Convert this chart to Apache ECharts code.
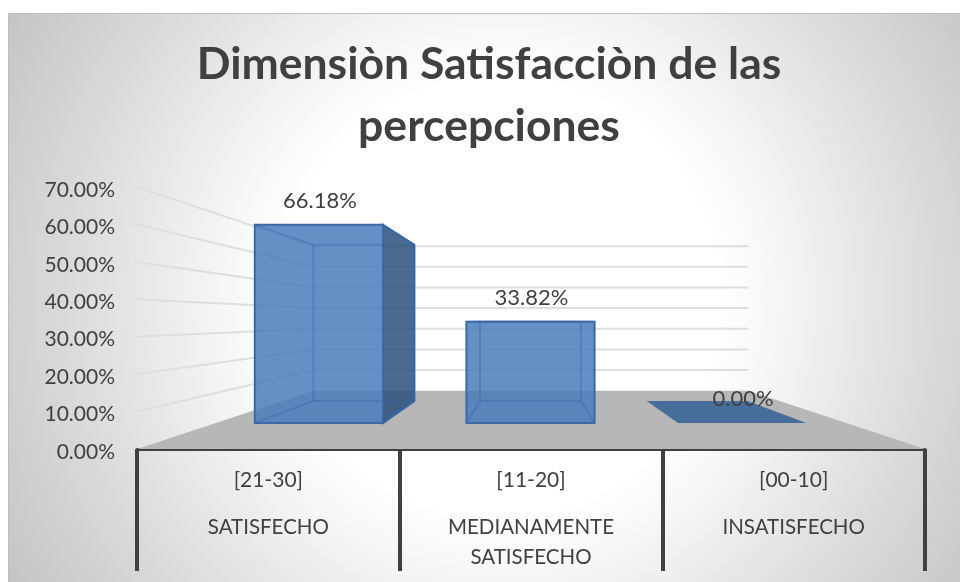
<!DOCTYPE html>
<html>
<head>
<meta charset="utf-8">
<style>
  html, body { margin: 0; padding: 0; background: #fff; }
  #chart { width: 960px; height: 582px; }
</style>
<script src="https://cdn.jsdelivr.net/npm/echarts@6/dist/echarts.min.js"></script>
</head>
<body>
<div id="chart"></div>
<script>
var titleText = 'Dimensiòn Satisfacciòn de las\npercepciones'
var ranges = ['[21-30]', '[11-20]', '[00-10]']
var groups = ['SATISFECHO', 'MEDIANAMENTE\nSATISFECHO', 'INSATISFECHO']
var percents = [66.18, 33.82, 0]
var gridValues = [10, 20, 30, 40, 50, 60, 70]

// fake 3d: everything is projected from the front plane of the axes towards a vanishing point
var vanishY = 319
var depthWallStart = 1.0076
var depthWall = 0.552
var depthBarFront = 0.8
var depthBarBack = 0.63
var barRatio = 0.61
var barSpread = 1.007

var textColor = '#404040'
var fontFamily = 'Lato'

function project(pt, vanishX, s) {
  return [vanishX + (pt[0] - vanishX) * s, vanishY + (pt[1] - vanishY) * s]
}

function renderFloor(params, api) {
  var rect = params.coordSys
  var vx = rect.x + rect.width / 2
  var y0 = api.coord([0, api.value(1)])[1]
  var left = [rect.x, y0]
  var right = [rect.x + rect.width, y0]
  return {
    type: 'polygon',
    shape: { points: [left, right, project(right, vx, depthWall), project(left, vx, depthWall)] },
    style: { fill: '#b7b7b7' }
  }
}

function renderGridLine(params, api) {
  var rect = params.coordSys
  var vx = rect.x + rect.width / 2
  var y = api.coord([0, api.value(1)])[1]
  var left = [rect.x, y]
  var right = [rect.x + rect.width, y]
  return {
    type: 'polyline',
    shape: { points: [project(left, vx, depthWallStart), project(left, vx, depthWall), project(right, vx, depthWall)] },
    style: { fill: null, stroke: '#dedede', lineWidth: 2 }
  }
}

function renderBar(params, api) {
  var rect = params.coordSys
  var vx = rect.x + rect.width / 2 - 0.5
  var v = api.value(1)
  var top = api.coord([api.value(0), v])
  var base = api.coord([api.value(0), 0])
  var half = api.size([1, 0])[0] * barRatio / 2
  var cx = vx + (top[0] - vx - 0.5) * barSpread

  function corner(dx, pt, s) {
    return project([cx + dx, pt[1]], vx, s)
  }
  var ftl = corner(-half, top, depthBarFront)
  var ftr = corner(half, top, depthBarFront)
  var fbl = corner(-half, base, depthBarFront)
  var fbr = corner(half, base, depthBarFront)
  var btl = corner(-half, top, depthBarBack)
  var btr = corner(half, top, depthBarBack)
  var bbl = corner(-half, base, depthBarBack)
  var bbr = corner(half, base, depthBarBack)

  var children = []
  function face(points, fill, stroke, width) {
    children.push({
      type: 'polygon',
      shape: { points: points },
      style: { fill: fill, stroke: stroke, lineWidth: width || 0 }
    })
  }
  function edge(a, b) {
    children.push({
      type: 'line',
      shape: { x1: a[0], y1: a[1], x2: b[0], y2: b[1] },
      style: { stroke: 'rgba(50,100,165,0.35)', lineWidth: 2 }
    })
  }

  if (v === 0) {
    face([fbl, fbr, bbr, bbl], '#476d9a', null)
  } else {
    if (btr[0] > ftr[0]) {
      face([ftr, btr, bbr, fbr], 'rgba(45,80,125,0.85)', '#3a69a6', 2)
    }
    face([ftl, ftr, fbr, fbl], 'rgba(74,125,188,0.85)', null)
    edge(btl, btr); edge(btr, bbr); edge(bbr, bbl); edge(bbl, btl)
    edge(ftl, btl); edge(ftr, btr); edge(fbl, bbl); edge(fbr, bbr)
    children.push({
      type: 'polygon',
      shape: { points: [ftl, ftr, fbr, fbl] },
      style: { fill: null, stroke: '#3a69a6', lineWidth: 2 }
    })
  }
  children.push({
    type: 'text',
    style: {
      x: (ftl[0] + ftr[0]) / 2 + 1,
      y: ftl[1] - 24,
      text: v.toFixed(2) + '%',
      fill: textColor,
      font: '22px ' + fontFamily,
      align: 'center',
      verticalAlign: 'middle'
    }
  })
  return { type: 'group', children: children }
}

var chart = echarts.init(document.getElementById('chart'))
chart.setOption({
  animation: false,
  backgroundColor: '#fff',
  textStyle: { fontFamily: fontFamily },
  graphic: [{
    type: 'rect',
    z: -10,
    silent: true,
    shape: { x: 8.5, y: 13.5, width: 960, height: 580 },
    style: {
      stroke: '#bdbdbd',
      lineWidth: 1,
      fill: {
        type: 'radial', x: 500, y: 297, r: 570, global: true,
        colorStops: [
          { offset: 0, color: '#ffffff' },
          { offset: 0.38, color: '#ffffff' },
          { offset: 0.5, color: '#f5f5f5' },
          { offset: 0.74, color: '#dcdcdc' },
          { offset: 1, color: '#c4c4c4' }
        ]
      }
    }
  }],
  title: {
    text: titleText,
    left: 484,
    top: 29,
    textAlign: 'center',
    textStyle: { fontSize: 44.5, fontWeight: 'bold', color: textColor, lineHeight: 62, fontFamily: fontFamily }
  },
  grid: { left: 137, right: 35, top: 187, bottom: 133 },
  xAxis: [{
    type: 'category',
    position: 'bottom',
    data: ranges,
    axisLine: { lineStyle: { color: textColor, width: 3 } },
    axisTick: { show: true, length: 122, lineStyle: { color: textColor, width: 4 } },
    axisLabel: { color: textColor, fontSize: 21, margin: 21, interval: 0 }
  }, {
    type: 'category',
    position: 'bottom',
    data: groups,
    axisLine: { show: false },
    axisTick: { show: false },
    axisLabel: { color: textColor, fontSize: 20.5, margin: 63, lineHeight: 30, interval: 0 }
  }],
  yAxis: {
    type: 'value',
    min: 0,
    max: 70,
    interval: 10,
    axisLine: { show: false },
    axisTick: { show: false },
    splitLine: { show: false },
    axisLabel: {
      color: textColor,
      fontSize: 21,
      margin: 22,
      verticalAlign: 'top',
      lineHeight: 6,
      formatter: function (val) { return val.toFixed(2) + '%' }
    }
  },
  series: [{
    type: 'custom',
    name: 'floor',
    renderItem: renderFloor,
    data: [[0, 0]],
    z: 1,
    silent: true
  }, {
    type: 'custom',
    name: 'gridlines',
    renderItem: renderGridLine,
    data: gridValues.map(function (g) { return [0, g] }),
    z: 2,
    silent: true
  }, {
    type: 'custom',
    name: 'bars',
    renderItem: renderBar,
    data: percents.map(function (p, i) { return [i, p] }),
    encode: { x: 0, y: 1 },
    z: 3
  }]
})
</script>
</body>
</html>
